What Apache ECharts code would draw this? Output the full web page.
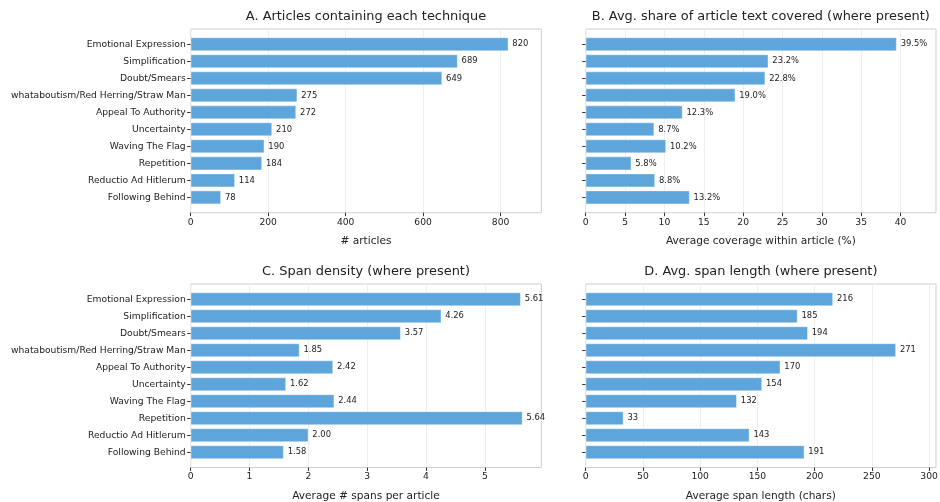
<!DOCTYPE html>
<html>
<head>
<meta charset="utf-8">
<script src="https://cdn.jsdelivr.net/npm/echarts@6/dist/echarts.min.js"></script>
<style>
  html, body {margin: 0; padding: 0; background: #fff;}
  #main {width: 940px; height: 502px;}
</style>
</head>
<body>
<div id="main"></div>
<script>
const categories = [
  'Emotional Expression', 'Simplification', 'Doubt/Smears',
  'whataboutism/Red Herring/Straw Man', 'Appeal To Authority', 'Uncertainty',
  'Waving The Flag', 'Repetition', 'Reductio Ad Hitlerum', 'Following Behind'
];
const articles = [820, 689, 649, 275, 272, 210, 190, 184, 114, 78];
const coverage = [39.5, 23.2, 22.8, 19.0, 12.3, 8.7, 10.2, 5.8, 8.8, 13.2];
const density = [5.61, 4.26, 3.57, 1.85, 2.42, 1.62, 2.44, 5.64, 2.00, 1.58];
const spanLength = [216, 185, 194, 271, 170, 154, 132, 33, 143, 191];

const ticksA = [0, 200, 400, 600, 800];
const ticksB = [0, 5, 10, 15, 20, 25, 30, 35, 40];
const ticksC = [0, 1, 2, 3, 4, 5];
const ticksD = [0, 50, 100, 150, 200, 250, 300];

const FONT = 'DejaVu Sans';
const TEXT = '#222';
const BAR = '#5DA5DA';

// frame boxes (matplotlib axes), the bars sit 0.4 band inside top/bottom
const panels = [
  {title: 'A. Articles containing each technique', name: '# articles',
   values: articles, ticks: ticksA, interval: 200, max: 905,
   fmt: v => String(Math.round(v)), box: [190.7, 29, 350.6, 183.7], cats: true},
  {title: 'B. Avg. share of article text covered (where present)', name: 'Average coverage within article (%)',
   values: coverage, ticks: ticksB, interval: 5, max: 44.5,
   fmt: v => v.toFixed(1) + '%', box: [585.7, 29, 350.3, 183.7], cats: false},
  {title: 'C. Span density (where present)', name: 'Average # spans per article',
   values: density, ticks: ticksC, interval: 1, max: 5.96,
   fmt: v => v.toFixed(2), box: [190.7, 284, 350.6, 183.5], cats: true},
  {title: 'D. Avg. span length (where present)', name: 'Average span length (chars)',
   values: spanLength, ticks: ticksD, interval: 50, max: 306,
   fmt: v => String(Math.round(v)), box: [585.7, 284, 350.3, 183.5], cats: false},
];

const grid = [], xAxis = [], yAxis = [], series = [], title = [];

panels.forEach((p, i) => {
  const [left, top, width, height] = p.box;
  const band = height / 10.8;
  const fg = i * 2, dg = i * 2 + 1;

  title.push({
    text: p.title, left: left + width / 2, top: top - 19, textAlign: 'center', padding: 0,
    textStyle: {fontFamily: FONT, fontSize: 12.9, fontWeight: 'normal', color: TEXT}
  });

  // frame grid: border, vertical grid lines, bottom ticks and name
  grid.push({left, top, width, height, show: true, borderColor: '#cfcfcf', borderWidth: 1, outerBoundsMode: 'none'});
  xAxis.push({
    type: 'value', gridIndex: fg, min: 0, max: p.max, interval: p.interval,
    axisLine: {show: false},
    axisTick: {show: true, length: 3.5, lineStyle: {color: '#333'}, customValues: p.ticks},
    axisLabel: {fontFamily: FONT, fontSize: 9.2, color: TEXT, margin: 5, customValues: p.ticks},
    splitLine: {show: true, lineStyle: {color: '#ebebeb', width: 0.8}},
    name: p.name, nameLocation: 'middle', nameGap: 23.5,
    nameTextStyle: {fontFamily: FONT, fontSize: 10.6, color: TEXT}
  });
  yAxis.push({type: 'value', gridIndex: fg, show: false, min: 0, max: 1});

  // data grid: bars and category labels
  grid.push({left, top: top + band * 0.4, width, height: band * 10, outerBoundsMode: 'none'});
  xAxis.push({type: 'value', gridIndex: dg, min: 0, max: p.max, show: false});
  yAxis.push({
    type: 'category', gridIndex: dg, data: categories, inverse: true,
    axisLine: {show: false},
    axisTick: {show: true, alignWithLabel: true, length: 3.5, lineStyle: {color: '#333'}},
    axisLabel: {show: p.cats, fontFamily: FONT, fontSize: 9.2, color: TEXT, margin: 5},
    splitLine: {show: false}
  });

  series.push({
    type: 'bar', xAxisIndex: dg, yAxisIndex: dg, data: p.values,
    barCategoryGap: '20%',
    itemStyle: {color: BAR, borderColor: 'rgba(255,255,255,0.7)', borderWidth: 0.6},
    label: {
      show: true, position: 'right', distance: 4,
      fontFamily: FONT, fontSize: 8.4, color: TEXT,
      formatter: d => p.fmt(d.value)
    },
    silent: true
  });
});

const chart = echarts.init(document.getElementById('main'), null, {renderer: 'canvas'});
chart.setOption({
  backgroundColor: '#fff',
  animation: false,
  title, grid, xAxis, yAxis, series
});
</script>
</body>
</html>
